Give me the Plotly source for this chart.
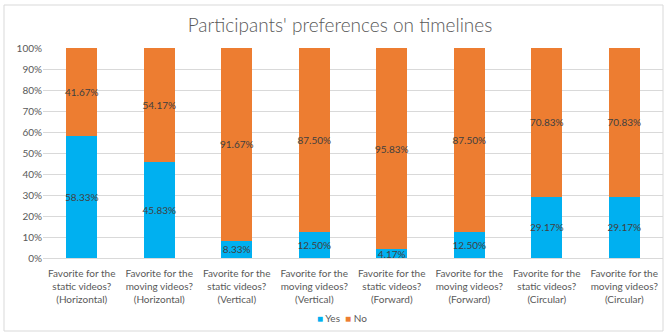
import plotly.graph_objects as go

categories = [
    "Favorite for the<br>static videos?<br>(Horizontal)",
    "Favorite for the<br>moving videos?<br>(Horizontal)",
    "Favorite for the<br>static videos?<br>(Vertical)",
    "Favorite for the<br>moving videos?<br>(Vertical)",
    "Favorite for the<br>static videos?<br>(Forward)",
    "Favorite for the<br>moving videos?<br>(Forward)",
    "Favorite for the<br>static videos?<br>(Circular)",
    "Favorite for the<br>moving videos?<br>(Circular)",
]
yes_pct = [58.33, 45.83, 8.33, 12.50, 4.17, 12.50, 29.17, 29.17]
no_pct = [41.67, 54.17, 91.67, 87.50, 95.83, 87.50, 70.83, 70.83]
y_ticks = [0, 10, 20, 30, 40, 50, 60, 70, 80, 90, 100]
series = [("Yes", yes_pct, "#00B0F0"), ("No", no_pct, "#ED7D31")]

FONT = "Lato, Open Sans, sans-serif"
GRAY = "#595959"

W, H = 667, 333
ML, MR, MT, MB = 43, 4, 48, 75
PW, PH = W - ML - MR, H - MT - MB

fig = go.Figure()
for name, vals, color in series:
    fig.add_trace(go.Bar(
        name=name,
        x=categories,
        y=vals,
        marker=dict(color=color, line=dict(width=0)),
        text=[f"{v:.2f}%" for v in vals],
        textposition="inside",
        textangle=0,
        insidetextanchor="middle",
        constraintext="none",
        textfont=dict(family=FONT, size=10, color="#404040"),
        cliponaxis=False,
        showlegend=False,
    ))

# outer chart frame
fig.add_shape(
    type="rect", xref="paper", yref="paper",
    x0=(4 - ML) / PW, x1=(663 - ML) / PW,
    y0=(MT + PH - 331) / PH, y1=1 + (MT - 5) / PH,
    line=dict(color="#D9D9D9", width=1), layer="below",
)

# compact legend below the categories
legend_text = "&nbsp;&nbsp;".join(
    f"<span style='color:{color}'>■</span> {name}" for name, _, color in series
)
fig.add_annotation(
    xref="paper", yref="paper",
    x=(342 - ML) / PW, xanchor="center",
    y=(MT + PH - 318) / PH, yanchor="middle",
    text=legend_text, showarrow=False,
    font=dict(family=FONT, size=10, color=GRAY),
)

fig.update_layout(
    width=W, height=H,
    margin=dict(l=ML, r=MR, t=MT, b=MB),
    barmode="stack",
    bargap=0.6,
    paper_bgcolor="white",
    plot_bgcolor="white",
    font=dict(family=FONT, size=10, color=GRAY),
    title=dict(
        text="Participants' preferences on timelines",
        x=340 / W, xanchor="center",
        y=1 - 25 / H, yanchor="middle",
        font=dict(family=FONT, size=19, color=GRAY, weight=300),
    ),
    xaxis=dict(
        tickfont=dict(family=FONT, size=10, color=GRAY),
        showline=False, ticks="", showgrid=False,
        ticklabelstandoff=8,
    ),
    yaxis=dict(
        range=[0, 100],
        tickvals=y_ticks,
        ticktext=[f"{t}%" for t in y_ticks],
        tickfont=dict(family=FONT, size=10, color=GRAY),
        showgrid=True, gridcolor="#D9D9D9", gridwidth=1,
        zeroline=True, zerolinecolor="#D9D9D9", zerolinewidth=1,
        showline=False, ticks="",
    ),
    showlegend=False,
)

fig.write_html("out.html")
